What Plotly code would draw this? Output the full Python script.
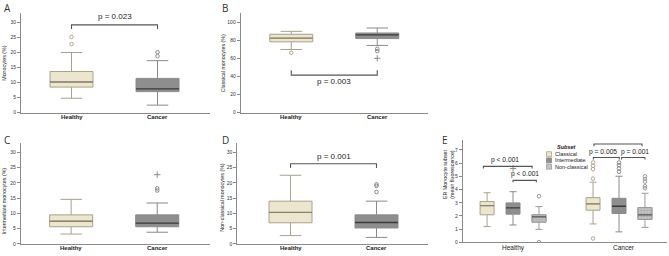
import plotly.graph_objects as go

groups = ["Healthy", "Cancer"]

# Panel A: Monocytes (%)
mono_q1 = [8.5, 7.0]
mono_med = [10.2, 7.9]
mono_q3 = [13.7, 11.4]
mono_lo = [4.8, 2.5]
mono_hi = [20.0, 17.3]
mono_out = [[22.8, 25.2], [18.8, 20.1]]
mono_ext = [[], []]

# Panel B: Classical monocytes (%)
cls_q1 = [78.5, 82.1]
cls_med = [82.5, 86.3]
cls_q3 = [86.9, 88.3]
cls_lo = [70.0, 74.5]
cls_hi = [90.1, 93.8]
cls_out = [[66.4], [68.2, 70.8]]
cls_ext = [[], [60.2]]

# Panel C: Intermediate monocytes (%)
int_q1 = [5.6, 5.6]
int_med = [7.4, 6.8]
int_q3 = [9.5, 9.5]
int_lo = [3.2, 3.8]
int_hi = [14.6, 13.4]
int_out = [[], [17.5, 18.2]]
int_ext = [[], [22.7]]

# Panel D: Non-classical monocytes (%)
ncl_q1 = [6.9, 5.2]
ncl_med = [10.3, 7.0]
ncl_q3 = [14.0, 9.5]
ncl_lo = [2.7, 2.1]
ncl_hi = [22.5, 14.0]
ncl_out = [[], [17.0, 19.0, 19.5]]
ncl_ext = [[], []]

# Panel E: ER monocyte subset (mean fluorescence), [group][subset]
subsets = ["Classical", "Intermediate", "Non-classical"]
er_q1 = [[2.09, 2.14, 1.54], [2.44, 2.19, 1.74]]
er_med = [[2.78, 2.62, 1.94], [2.92, 2.74, 2.09]]
er_q3 = [[3.09, 2.99, 2.09], [3.39, 3.34, 2.64]]
er_lo = [[1.2, 1.32, 0.99], [1.4, 0.8, 1.14]]
er_hi = [[3.76, 3.84, 2.71], [4.56, 5.01, 3.72]]
er_out = [[[], [], [3.5, 0.02]],
          [[0.3, 4.83, 5.55, 5.8, 6.05], [5.35, 5.6, 5.85, 6.05], [4.1, 4.25, 4.6, 4.8, 5.0]]]
er_ext = [[[], [5.6], []], [[], [], []]]

p_A = "p = 0.023"
p_B = "p = 0.003"
p_D = "p = 0.001"
p_E = ["p < 0.001", "p < 0.001", "p < 0.001", "p = 0.005", "p = 0.001"]

FONT = "Liberation Sans, Arial, sans-serif"
FILLS = ["#EDE6CF", "#8E8E8E", "#C4C4C4"]
EDGES = ["#A8A18C", "#8A8A8A", "#9A9A9A"]
MEDS = ["#8C826C", "#3A3A3A", "#505050"]
OUTC = ["#B0A88E", "#8A8A8A", "#9A9A9A"]

fig = go.Figure()


def add_box(xa, ya, x, q1, med, q3, lo, hi, outs, exts, width, k, pattern=False):
    fig.add_trace(go.Box(
        x=[x], q1=[q1], median=[med], q3=[q3], lowerfence=[lo], upperfence=[hi],
        width=width, fillcolor=FILLS[k], line=dict(color=EDGES[k], width=1),
        whiskerwidth=0.5, boxpoints=False, xaxis=xa, yaxis=ya,
        showlegend=False, hoverinfo="skip"))
    if pattern:
        x0, x1 = x - width / 2, x + width / 2
        fig.add_trace(go.Scatter(
            x=[x0, x1, x1, x0, x0], y=[q1, q1, q3, q3, q1], mode="lines", fill="toself",
            fillcolor="rgba(0,0,0,0)", line=dict(color=EDGES[k], width=1),
            fillpattern=dict(shape=".", fgcolor="#8A8A8A", bgcolor=FILLS[k], size=3, solidity=0.35),
            xaxis=xa, yaxis=ya, showlegend=False, hoverinfo="skip"))
    fig.add_trace(go.Scatter(
        x=[x - width / 2, x + width / 2], y=[med, med], mode="lines",
        line=dict(color=MEDS[k], width=1.3), xaxis=xa, yaxis=ya,
        showlegend=False, hoverinfo="skip"))
    if outs:
        fig.add_trace(go.Scatter(
            x=[x] * len(outs), y=outs, mode="markers",
            marker=dict(symbol="circle-open", size=3.6, color=OUTC[k], line=dict(width=1)),
            xaxis=xa, yaxis=ya, showlegend=False, hoverinfo="skip"))
    if exts:
        fig.add_trace(go.Scatter(
            x=[x] * len(exts), y=exts, mode="markers",
            marker=dict(symbol="cross-thin-open", size=4.5, color=OUTC[k], line=dict(width=1)),
            xaxis=xa, yaxis=ya, showlegend=False, hoverinfo="skip"))


panels = [
    ("x", "y", mono_q1, mono_med, mono_q3, mono_lo, mono_hi, mono_out, mono_ext),
    ("x2", "y2", cls_q1, cls_med, cls_q3, cls_lo, cls_hi, cls_out, cls_ext),
    ("x3", "y3", int_q1, int_med, int_q3, int_lo, int_hi, int_out, int_ext),
    ("x4", "y4", ncl_q1, ncl_med, ncl_q3, ncl_lo, ncl_hi, ncl_out, ncl_ext),
]
for xa, ya, q1, md, q3, lo, hi, ou, ex in panels:
    for i in range(len(groups)):
        add_box(xa, ya, i, q1[i], md[i], q3[i], lo[i], hi[i], ou[i], ex[i], 0.5, i)

offs = [-0.245, 0.0, 0.245]
for g in range(len(groups)):
    for s in range(len(subsets)):
        add_box("x5", "y5", g + offs[s], er_q1[g][s], er_med[g][s], er_q3[g][s],
                er_lo[g][s], er_hi[g][s], er_out[g][s], er_ext[g][s], 0.132, s,
                pattern=(s == 2))

W, H = 669, 256


def px(v):
    return v / W


def py(v):
    return 1 - v / H


axis_common = dict(showline=True, linecolor="#8A8A8A", linewidth=1, showgrid=False,
                   zeroline=False, fixedrange=True)
yax = dict(axis_common, ticks="outside", ticklen=3, tickcolor="#8A8A8A",
           tickfont=dict(size=5, color="#333", family=FONT))
xax = dict(axis_common, ticks="", showticklabels=False)

layout = dict(
    width=W, height=H, margin=dict(l=0, r=0, t=0, b=0),
    paper_bgcolor="white", plot_bgcolor="white", showlegend=False,
    font=dict(family=FONT),
    xaxis=dict(xax, domain=[px(21), px(210)], range=[-0.587, 1.61], anchor="y"),
    yaxis=dict(yax, domain=[py(114), py(13)], range=[0, 33.2], dtick=5, anchor="x"),
    xaxis2=dict(xax, domain=[px(240.7), px(428)], range=[-0.588, 1.59], anchor="y2"),
    yaxis2=dict(yax, domain=[py(114), py(13)], range=[0, 110.6], dtick=20, anchor="x2"),
    xaxis3=dict(xax, domain=[px(20.7), px(210)], range=[-0.586, 1.613], anchor="y3"),
    yaxis3=dict(yax, domain=[py(246.7), py(145)], range=[0, 33.0], dtick=5, anchor="x3"),
    xaxis4=dict(xax, domain=[px(237.3), px(428)], range=[-0.619, 1.599], anchor="y4"),
    yaxis4=dict(yax, domain=[py(246.7), py(145)], range=[0, 33.0], dtick=5, anchor="x4"),
    xaxis5=dict(xax, domain=[px(462.7), px(667)], range=[-0.475, 1.453], anchor="y5"),
    yaxis5=dict(yax, domain=[py(245.3), py(141.7)], range=[0, 7.75], dtick=1, anchor="x5"),
)
fig.update_layout(**layout)

shapes = []
annotations = []

# category labels under each panel
for xr, ly, pos, fmt, size in [("x", 118.5, [0, 1], "<b>%s</b>", 6),
                               ("x2", 118.5, [0, 1], "<b>%s</b>", 6),
                               ("x3", 251, [0, 1], "<b>%s</b>", 6),
                               ("x4", 251, [0, 1], "<b>%s</b>", 6),
                               ("x5", 250.5, [0, 1.05], "%s", 6.5)]:
    for g, xv in zip(groups, pos):
        annotations.append(dict(xref=xr, yref="paper", x=xv, y=py(ly), text=fmt % g,
                                showarrow=False, xanchor="center", yanchor="middle",
                                font=dict(size=size, color="#222", family=FONT)))


def bracket(xr, yr, x0, x1, y, tip, text, ty, size=8, tx=None):
    shapes.append(dict(type="path", xref=xr, yref=yr,
                       path="M %f,%f L %f,%f L %f,%f L %f,%f" % (x0, tip, x0, y, x1, y, x1, tip),
                       line=dict(color="#555", width=1.1)))
    annotations.append(dict(xref=xr, yref=yr, x=(x0 + x1) / 2 if tx is None else tx, y=ty,
                            text=text, showarrow=False,
                            font=dict(size=size, color="#222", family=FONT),
                            xanchor="center", yanchor="middle"))


bracket("x", "y", 0, 1, 29.2, 27.8, p_A, 31.9)
bracket("x2", "y2", 0, 1, 41.6, 47.0, p_B, 34.0)
bracket("x4", "y4", 0, 1, 26.3, 24.9, p_D, 28.8)
bracket("x5", "y5", -0.28, 0.18, 5.76, 5.6, p_E[0], 6.25, 6.7, -0.075)
bracket("x5", "y5", 0.0, 0.22, 4.7, 4.55, p_E[1], 5.15, 6.7, 0.113)
bracket("x5", "y5", 0.764, 1.217, 7.45, 7.28, p_E[2], 7.85, 6.7, 0.99)
bracket("x5", "y5", 0.758, 1.003, 6.43, 6.28, p_E[3], 6.85, 6.7, 0.85)
bracket("x5", "y5", 1.025, 1.245, 6.43, 6.28, p_E[4], 6.85, 6.7, 1.15)

# panel letters
for letter, x, y in [("A", 2, 8.5), ("B", 220, 8.5), ("C", 2, 142), ("D", 220, 142), ("E", 440, 142)]:
    annotations.append(dict(xref="paper", yref="paper", x=px(x), y=py(y), text=letter,
                            showarrow=False, xanchor="left", yanchor="middle",
                            font=dict(size=10, color="#333", family="Open Sans, Liberation Sans")))

# y-axis titles
for txt, x, y in [("Monocytes (%)", 4, 63.5), ("Classical monocytes (%)", 223, 64),
                  ("Intermediate monocytes (%)", 4, 203.5), ("Non-classical monocytes (%)", 222, 200),
                  ("ER Monocyte subset<br>(mean fluorescence)", 449, 177)]:
    annotations.append(dict(xref="paper", yref="paper", x=px(x), y=py(y), text=txt,
                            showarrow=False, textangle=-90, xanchor="center", yanchor="middle",
                            font=dict(size=5.3, color="#222", family=FONT)))

# legend for panel E
annotations.append(dict(xref="paper", yref="paper", x=px(555), y=py(148.7), text="<b><i>Subset</i></b>",
                        showarrow=False, xanchor="left", yanchor="middle",
                        font=dict(size=5.5, color="#222", family=FONT)))
for s, yy in zip(range(len(subsets)), [156, 162.3, 168.7]):
    shapes.append(dict(type="rect", xref="paper", yref="paper", x0=px(546.5), x1=px(551.5),
                       y0=py(yy + 2.5), y1=py(yy - 2.5), fillcolor=FILLS[s],
                       line=dict(color=EDGES[s], width=0.8)))
    annotations.append(dict(xref="paper", yref="paper", x=px(553), y=py(yy), text=subsets[s],
                            showarrow=False, xanchor="left", yanchor="middle",
                            font=dict(size=5.5, color="#222", family=FONT)))

fig.update_layout(shapes=shapes, annotations=annotations)
fig.write_html("out.html", config={"displayModeBar": False},
               post_script="document.body.style.margin='0';document.body.style.overflow='hidden';")
